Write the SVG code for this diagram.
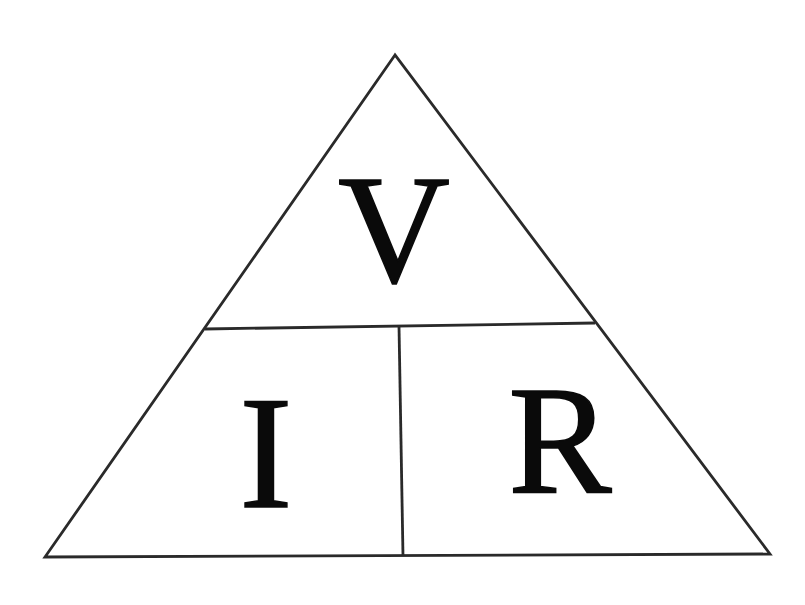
<svg xmlns="http://www.w3.org/2000/svg" width="805" height="605" viewBox="0 0 805 605">
<style>
.ln{stroke:#2a2a2a;stroke-width:2.8;fill:none;stroke-linejoin:miter}
.t{font-family:"Liberation Serif","Times New Roman",serif;font-size:155px;fill:#0a0a0a;stroke:#0a0a0a;stroke-width:1.5;text-anchor:middle}
</style>
<rect width="805" height="605" fill="#ffffff"/>
<g id="connectors">
<polygon class="ln" points="395,55 45,557 770,554"/>
<line class="ln" x1="205" y1="329" x2="595" y2="323"/>
<line class="ln" x1="399" y1="326" x2="403" y2="556"/>
</g>
<g id="node-V"><text class="t" x="394" y="282">V</text></g>
<g id="node-I"><text class="t" x="266" y="507" style="font-size:160px">I</text></g>
<g id="node-R"><text class="t" x="560" y="492">R</text></g>
</svg>
